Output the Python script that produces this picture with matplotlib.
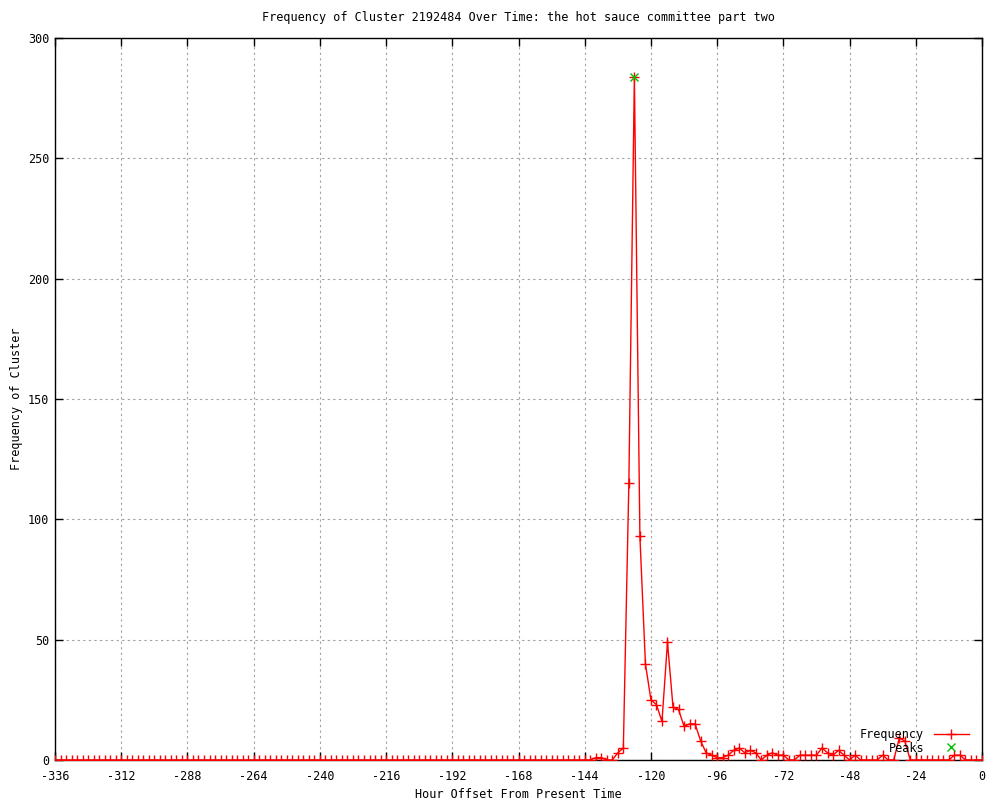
import numpy as np
import matplotlib.pyplot as plt

plt.rcParams['font.family'] = ['DejaVu Sans Mono']
plt.rcParams['axes.unicode_minus'] = False

# hours -336 .. 0 in steps of 2
hours = np.arange(-336, 1, 2)

# non-zero part (hour -> count); everything else is 0
active_hours = [-140, -138, -136, -134, -132, -130, -128, -126, -124, -122,
                -120, -118, -116, -114, -112, -110, -108, -106, -104, -102,
                -100, -98, -96, -94, -92, -90, -88, -86, -84, -82,
                -80, -78, -76, -74, -72, -70, -68, -66, -64, -62,
                -60, -58, -56, -54, -52, -50, -48, -46, -44, -42,
                -40, -38, -36, -34, -32, -30, -28, -26, -24, -22,
                -20, -18, -16, -14, -12, -10, -8, -6, -4, -2, 0]
active_vals = [1, 1, 0, 0, 3, 5, 115, 284, 93, 40,
               25, 23, 16, 49, 22, 21, 14, 15, 15, 8,
               3, 2, 1, 1, 2, 4, 5, 3, 4, 3,
               0, 2, 3, 2, 2, 0, 0, 2, 2, 2,
               2, 5, 3, 2, 4, 2, 0, 2, 0, 0,
               0, 0, 2, 0, 0, 9, 8, 0, 0, 0,
               0, 0, 0, 0, 0, 2, 2, 0, 0, 0, 0]

freq = np.zeros(len(hours))
for h, v in zip(active_hours, active_vals):
    freq[np.where(hours == h)[0][0]] = v

peak_hours = [-126]
peak_vals = [284]

x_ticks = np.arange(-336, 1, 24)
y_ticks = np.arange(0, 301, 50)

fig = plt.figure(figsize=(10, 8), dpi=100)
ax = fig.add_axes([0.055, 0.05, 0.927, 0.9025])

ax.plot(hours, freq, color='red', lw=1, marker='+', ms=7, mew=1,
        label='Frequency', zorder=3)
ax.plot(peak_hours, peak_vals, ls='none', color='#00c000', marker='x',
        ms=6, mew=1, label='Peaks', zorder=4)

ax.set_xlim(-336, 0)
ax.set_ylim(0, 300)
ax.set_xticks(x_ticks)
ax.set_yticks(y_ticks)
ax.grid(True, color='#a0a0a0', ls=(0, (2, 3)), lw=0.8)
ax.tick_params(direction='in', length=6, width=1, top=True, right=True,
               labelsize=8.5)
ax.tick_params(axis='x', pad=7)
ax.tick_params(axis='y', pad=4)
for s in ax.spines.values():
    s.set_linewidth(1)

ax.set_title('Frequency of Cluster 2192484 Over Time: the hot sauce committee part two',
             fontsize=8.5, pad=12)
ax.set_xlabel('Hour Offset From Present Time', fontsize=8.5, labelpad=4)
ax.set_ylabel('Frequency of Cluster', fontsize=8.5, labelpad=4)

ax.legend(loc='lower right', bbox_to_anchor=(0.995, -0.004), frameon=False,
          markerfirst=False, fontsize=8.5, handlelength=3, labelspacing=0.02,
          borderpad=0.2)

fig.savefig('out.png', dpi=100)
